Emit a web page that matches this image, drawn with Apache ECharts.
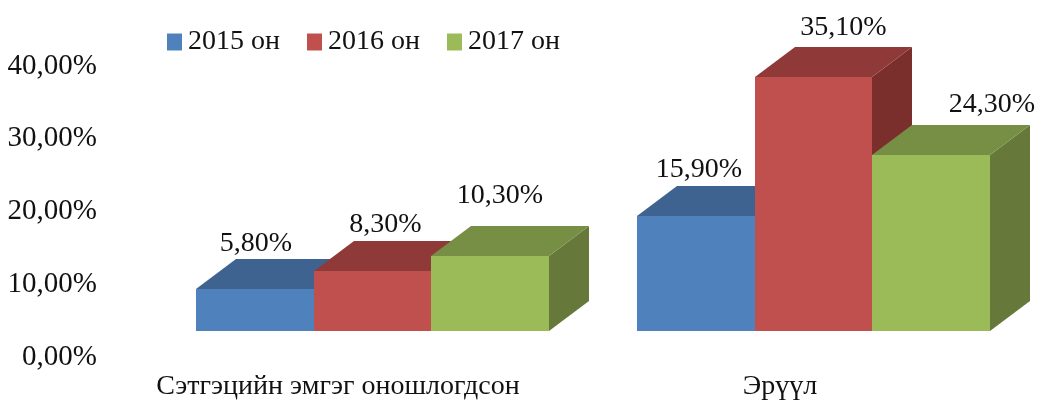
<!DOCTYPE html>
<html>
<head>
<meta charset="utf-8">
<style>
  html, body { margin: 0; padding: 0; background: #fff; }
  #chart { width: 1038px; height: 401px; }
</style>
<script src="https://cdn.jsdelivr.net/npm/echarts@6/dist/echarts.min.js"></script>
</head>
<body>
<div id="chart"></div>
<script>
var categories = ['Сэтгэцийн эмгэг оношлогдсон', 'Эрүүл']
var years = ['2015 он', '2016 он', '2017 он']
var values2015 = [5.8, 15.9]
var values2016 = [8.3, 35.1]
var values2017 = [10.3, 24.3]
var yTicks = [0, 10, 20, 30, 40]

// front, top, side colours of the boxes
var colors = [
  ['#4F81BD', '#3F6391', '#345278'],
  ['#C0504D', '#8F3A38', '#7B2F2D'],
  ['#9BBB59', '#778F45', '#66793A']
]
// labels were moved by hand in the original, so each has its own shift
var labelShift = [
  [[1, 3], [3, 2]],
  [[13, 2], [30, -1]],
  [[10, -12], [61, -2]]
]
var depthX = 40
var depthY = 30
var font = '"Liberation Serif", serif'

function pct(v) {
  return v.toFixed(2).replace('.', ',') + '%'
}

function renderBox(s) {
  return function (params, api) {
    var i = api.value(0)
    var v = api.value(1)
    var top = api.coord([i, v])
    var base = api.coord([i, 0])
    var w = api.size([1, 0])[0] * 0.2665
    var x0 = Math.round(top[0] + (s - 1) * w - w / 2)
    var x1 = Math.round(top[0] + (s - 1) * w + w / 2)
    var y0 = Math.round(top[1])
    var y1 = Math.round(base[1])
    var shift = labelShift[s][i]
    return {
      type: 'group',
      children: [
        {
          type: 'polygon',
          shape: { points: [[x1, y0], [x1 + depthX, y0 - depthY], [x1 + depthX, y1 - depthY], [x1, y1]] },
          style: { fill: colors[s][2] }
        },
        {
          type: 'polygon',
          shape: { points: [[x0, y0], [x0 + depthX, y0 - depthY], [x1 + depthX, y0 - depthY], [x1, y0]] },
          style: { fill: colors[s][1] }
        },
        {
          type: 'rect',
          shape: { x: x0, y: y0, width: x1 - x0, height: y1 - y0 },
          style: { fill: colors[s][0] }
        },
        {
          type: 'text',
          z2: 50,
          style: {
            text: pct(v),
            x: (x0 + x1) / 2 + shift[0],
            y: y0 - depthY - 18 + shift[1],
            align: 'center',
            verticalAlign: 'middle',
            fill: '#111',
            font: '28px ' + font
          }
        }
      ]
    }
  }
}

function boxSeries(s, values) {
  return {
    name: years[s],
    type: 'custom',
    xAxisIndex: 1,
    yAxisIndex: 1,
    clip: false,
    itemStyle: { color: colors[s][0] },
    encode: { x: 0, y: 1 },
    data: values.map(function (v, i) { return [i, v] }),
    renderItem: renderBox(s)
  }
}

var chart = echarts.init(document.getElementById('chart'))
chart.setOption({
  animation: false,
  backgroundColor: '#fff',
  legend: {
    left: 162,
    top: 28,
    padding: [0, 5],
    itemWidth: 15,
    itemHeight: 17,
    itemGap: 27,
    icon: 'rect',
    data: years,
    textStyle: { fontFamily: font, fontSize: 28, color: '#111', padding: [0, 0, 0, 1] }
  },
  grid: [
    // grid for the visible tick labels
    { left: 117, top: 66, width: 884, height: 295 },
    // the boxes stand a little above the axis labels and use a slightly smaller scale
    { left: 152, top: 41, width: 882, height: 290 }
  ],
  xAxis: [
    {
      gridIndex: 0,
      type: 'category',
      data: categories,
      axisLine: { show: false },
      axisTick: { show: false },
      axisLabel: { margin: 16, interval: 0, fontFamily: font, fontSize: 28, color: '#111' }
    },
    { gridIndex: 1, type: 'category', data: categories, show: false }
  ],
  yAxis: [
    {
      gridIndex: 0,
      type: 'value',
      min: yTicks[0],
      max: yTicks[yTicks.length - 1],
      interval: 10,
      axisLine: { show: false },
      axisTick: { show: false },
      splitLine: { show: false },
      axisLabel: {
        margin: 20,
        fontFamily: font,
        fontSize: 29,
        color: '#111',
        formatter: function (v) { return pct(v) }
      }
    },
    { gridIndex: 1, type: 'value', min: 0, max: 40, show: false }
  ],
  series: [
    boxSeries(0, values2015),
    boxSeries(1, values2016),
    boxSeries(2, values2017)
  ]
})
</script>
</body>
</html>
